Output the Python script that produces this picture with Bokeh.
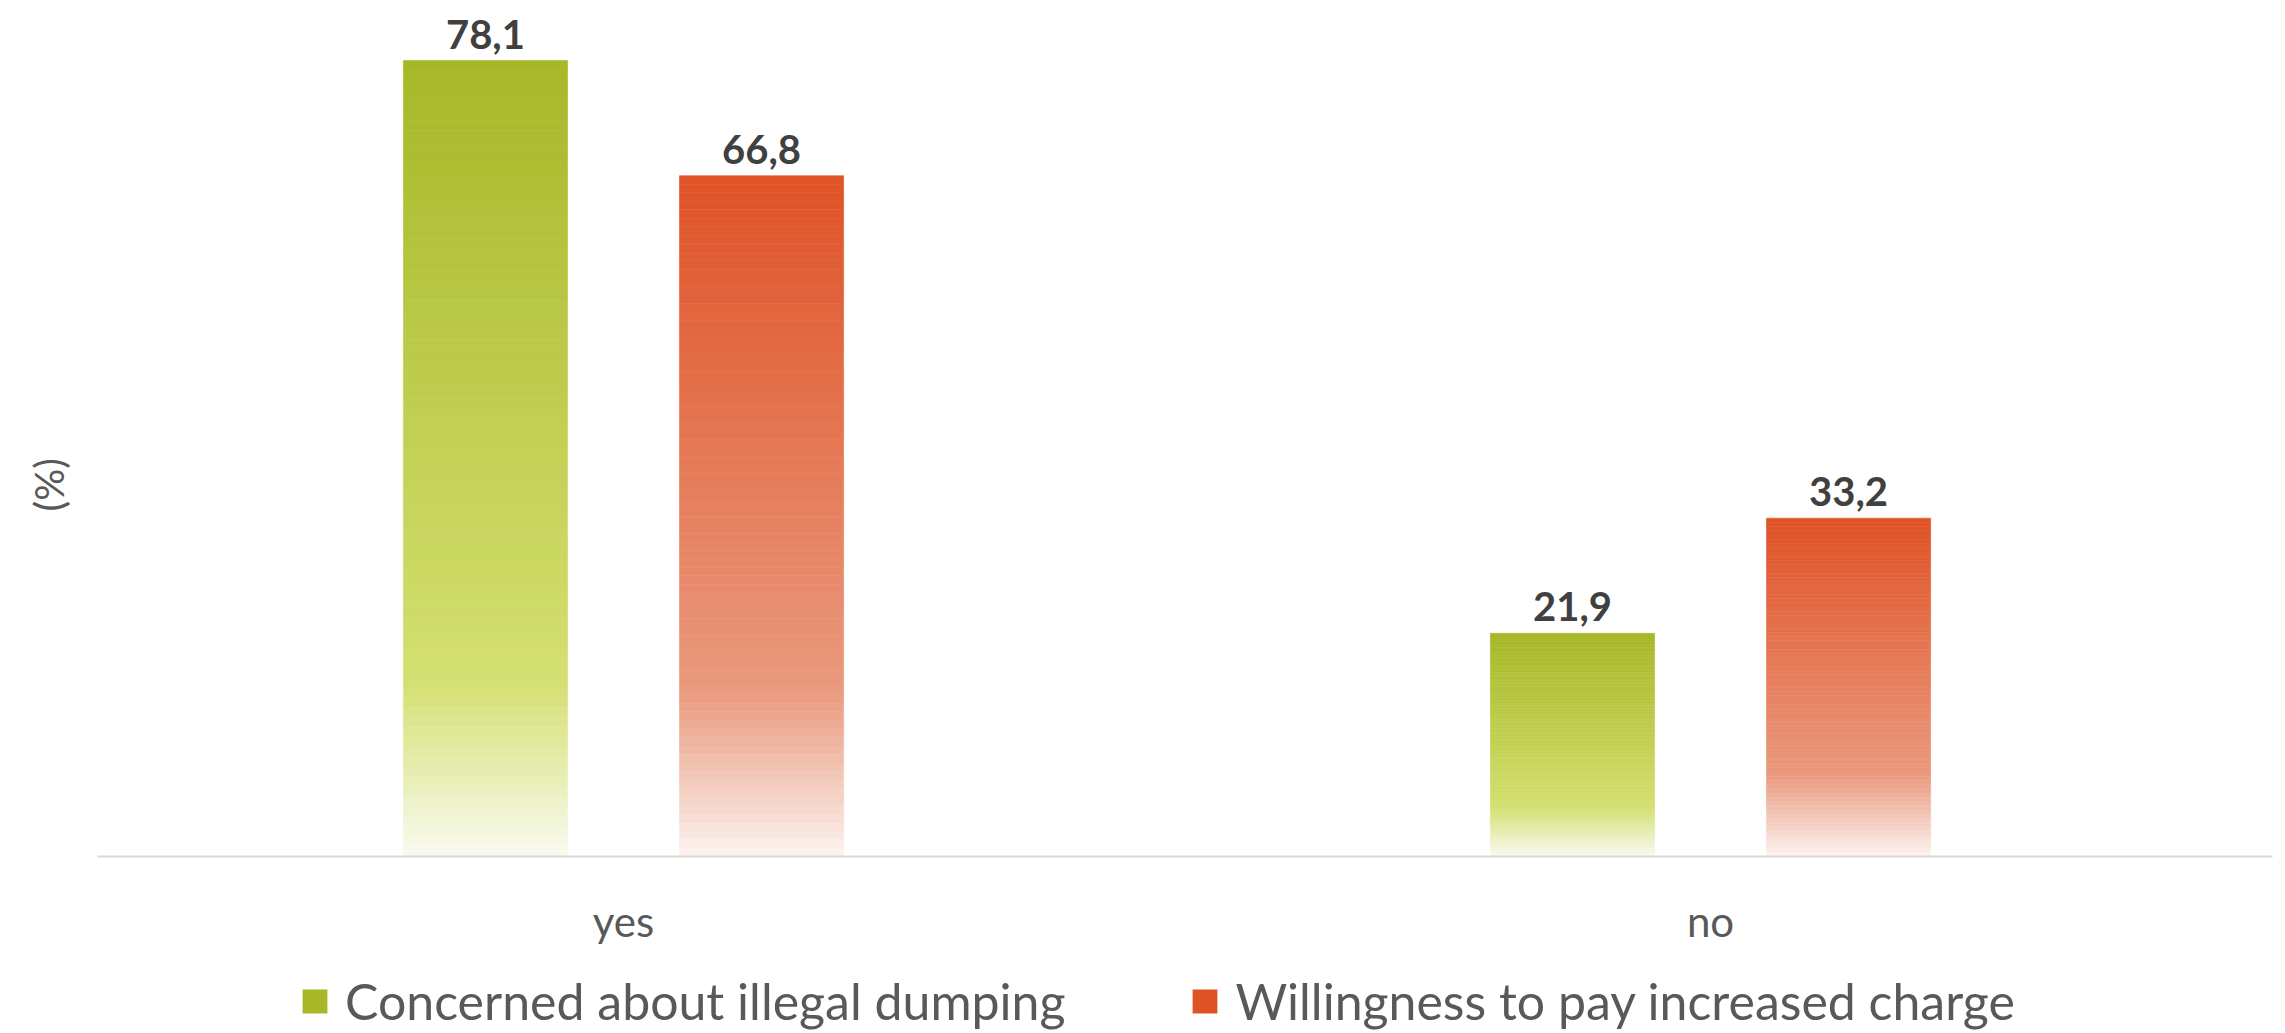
import numpy as np
from bokeh.plotting import figure
from bokeh.layouts import column
from bokeh.models import Range1d, FixedTicker, Legend, LegendItem, ColumnDataSource, Title
from bokeh.core.properties import value
from bokeh.embed import file_html
from bokeh.resources import INLINE

# ---- data ----
categories = ["yes", "no"]
series_names = ["Concerned about illegal dumping", "Willingness to pay increased charge"]
concerned = [78.1, 21.9]
willingness = [66.8, 33.2]
y_title = "(%)"

# ---- styles ----
FONT = "Lato"
green_stops = [(0.0, "#A6B727"), (0.78, "#D4E070"), (1.0, "#F9FAF0")]
red_stops = [(0.0, "#DF5226"), (0.76, "#EA9A7E"), (1.0, "#FCF3F0")]
N_SEG = 80
offset = 0.127
bar_w = 0.151


def hex2rgb(h):
    h = h.lstrip("#")
    return np.array([int(h[i:i + 2], 16) for i in (0, 2, 4)], dtype=float)


def interp_color(stops, t):
    for (t0, c0), (t1, c1) in zip(stops[:-1], stops[1:]):
        if t0 <= t <= t1:
            f = (t - t0) / (t1 - t0) if t1 > t0 else 0
            c = hex2rgb(c0) * (1 - f) + hex2rgb(c1) * f
            return "#%02x%02x%02x" % tuple(int(round(v)) for v in c)
    return stops[-1][1]


def gradient_source(vals, xoff, stops):
    xs, tops, bottoms, colors = [], [], [], []
    for i, v in enumerate(vals):
        for k in range(N_SEG):
            xs.append(i + xoff)
            tops.append(v * (1 - k / N_SEG))
            bottoms.append(v * (1 - (k + 1) / N_SEG))
            colors.append(interp_color(stops, (k + 0.5) / N_SEG))
    return ColumnDataSource(dict(x=xs, top=tops, bottom=bottoms, color=colors))


MAIN_H = 948
p = figure(width=2285, height=MAIN_H, output_backend="svg", toolbar_location=None,
           x_range=Range1d(-0.4839, 1.517), y_range=Range1d(0, 84.0),
           min_border_left=97, min_border_right=13, min_border_top=0, min_border_bottom=86)

p.outline_line_color = None
p.grid.visible = False
p.background_fill_color = "white"
p.border_fill_color = "white"

src_g = gradient_source(concerned, -offset, green_stops)
src_r = gradient_source(willingness, offset, red_stops)
p.vbar(x="x", top="top", bottom="bottom", width=bar_w, source=src_g,
       fill_color="color", line_color="color", line_width=0.6)
p.vbar(x="x", top="top", bottom="bottom", width=bar_w, source=src_r,
       fill_color="color", line_color="color", line_width=0.6)

# value labels
lab_x = [i - offset for i in range(len(categories))] + [i + offset for i in range(len(categories))]
lab_y = concerned + willingness
lab_t = [f"{v:.1f}".replace(".", ",") for v in lab_y]
p.text(x=lab_x, y=lab_y, text=lab_t, text_align="center", text_baseline="bottom",
       y_offset=-12, text_font=value(FONT), text_font_style="bold",
       text_font_size="40px", text_color="#404040")

# x axis
xa = p.xaxis[0]
xa.ticker = FixedTicker(ticks=list(range(len(categories))))
xa.major_label_overrides = {i: c for i, c in enumerate(categories)}
xa.major_tick_line_color = None
xa.minor_tick_line_color = None
xa.axis_line_color = "#D9D9D9"
xa.axis_line_width = 2
xa.major_label_text_font = FONT
xa.major_label_text_font_size = "42px"
xa.major_label_text_color = "#595959"
xa.major_label_standoff = 33

# y axis hidden; its title drawn as a left-side title
p.yaxis.visible = False
p.add_layout(Title(text=y_title, align="left", offset=345, vertical_align="top",
                   standoff=46, text_font=FONT, text_font_style="normal",
                   text_font_size="40px", text_color="#595959"), "left")

# ---- legend strip below the chart ----
leg = figure(width=2285, height=1033 - MAIN_H, output_backend="svg", toolbar_location=None,
             x_range=Range1d(0, 1), y_range=Range1d(0, 1),
             min_border_left=0, min_border_right=0, min_border_top=0, min_border_bottom=0)
leg.axis.visible = False
leg.grid.visible = False
leg.outline_line_color = None
leg.background_fill_color = "white"
leg.border_fill_color = "white"
# swatch renderers (zero-height, nothing visible on the canvas)
sw_g = ColumnDataSource(dict(x=[0.5], top=[0], bottom=[0], color=[green_stops[0][1]]))
sw_r = ColumnDataSource(dict(x=[0.5], top=[0], bottom=[0], color=[red_stops[0][1]]))
lg = leg.vbar(x="x", top="top", bottom="bottom", width=0.0, source=sw_g,
              fill_color="color", line_color=None)
lr = leg.vbar(x="x", top="top", bottom="bottom", width=0.0, source=sw_r,
              fill_color="color", line_color=None)

legend = Legend(items=[LegendItem(label=series_names[0], renderers=[lg]),
                       LegendItem(label=series_names[1], renderers=[lr])],
                orientation="horizontal", location=(202, 2),
                label_text_font=FONT, label_text_font_size="50px", label_text_color="#595959",
                glyph_width=31, glyph_height=30, label_standoff=15, spacing=124,
                border_line_color=None, background_fill_alpha=0, padding=0, margin=0)
leg.add_layout(legend, "center")

layout = column(p, leg, spacing=0)
open("out.html", "w").write(file_html(layout, INLINE))
